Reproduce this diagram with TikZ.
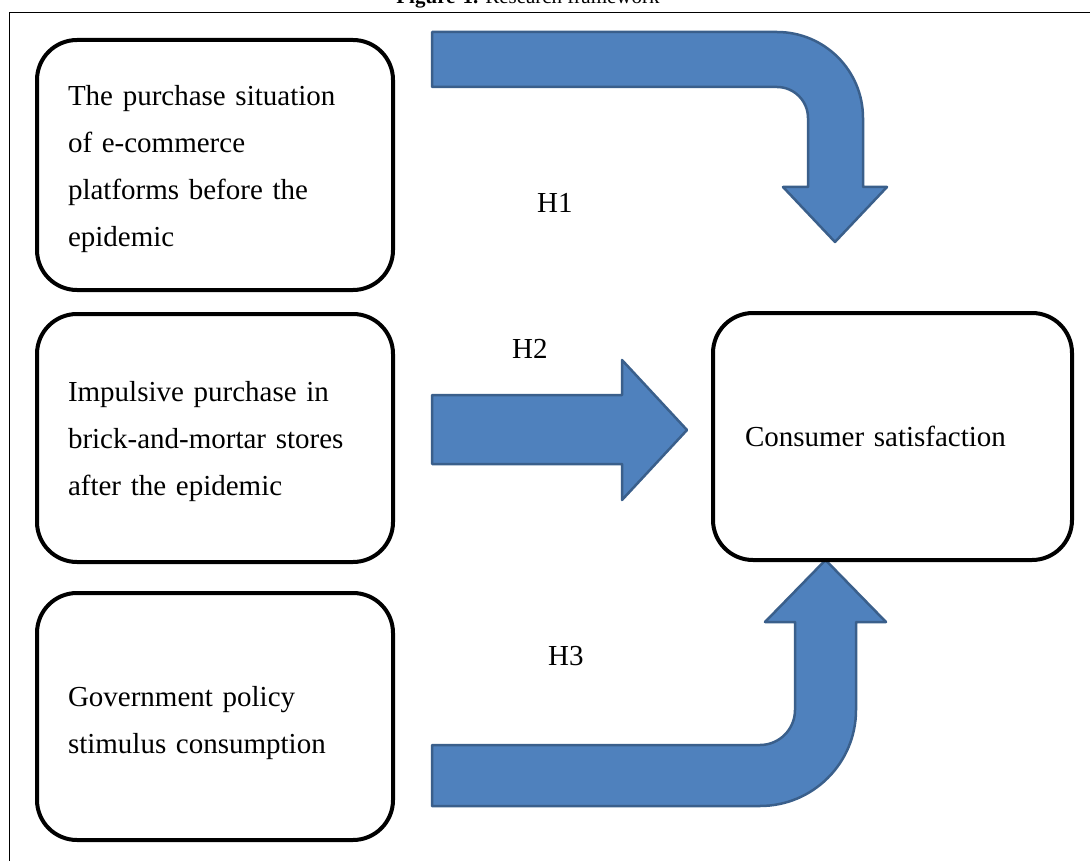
\documentclass[tikz,border=0pt]{standalone}
\usepackage{fontspec}
\setmainfont{Liberation Serif}
\definecolor{arrowfill}{HTML}{4F81BD}
\definecolor{arrowline}{HTML}{3A5F8B}
\newcommand\topgap[1]{\rule{0pt}{#1}}
\begin{document}
\begin{tikzpicture}[x=1pt,y=-1pt,
  box/.style={draw=black, line width=4pt, rounded corners=40pt, fill=white,
    align=left, inner xsep=31pt, inner ysep=0pt,
    font=\fontsize{29}{47}\selectfont},
  blockarrow/.style={fill=arrowfill, draw=arrowline, line width=2.5pt, line join=round},
  hlabel/.style={font=\fontsize{29}{35}\selectfont, anchor=base west, inner sep=0pt}]
\useasboundingbox (0,0) rectangle (1090,861);

% title (cut by the page edge, as in the reference) and frame
\node[font=\fontsize{21}{25}\selectfont, anchor=base, inner sep=0pt] (title) at (528,4)
  {\textbf{Figure-1.} Research framework};
\draw[line width=1.5pt] (9.5,861) -- (9.5,12.5) -- (1090,12.5);

% block arrows
\draw[blockarrow] (432,32) -- (777,32)
  .. controls (824.5,32) and (863,70.5) .. (863,118)
  -- (863,187) -- (887,187) -- (835,242) -- (783,187) -- (808,187) -- (808,118)
  .. controls (808,100.9) and (794.1,87) .. (777,87)
  -- (432,87) -- cycle;
\draw[blockarrow] (432,395) -- (622,395) -- (622,360) -- (687,430)
  -- (622,500) -- (622,464) -- (432,464) -- cycle;
\draw[blockarrow] (432,745) -- (760,745)
  .. controls (779.3,745) and (795,729.3) .. (795,710)
  -- (795,622) -- (765,622) -- (825.5,560) -- (886,622) -- (856,622) -- (856,710)
  .. controls (856,763) and (813,806) .. (760,806)
  -- (432,806) -- cycle;

% boxes
\node[box, text width=294pt, minimum height=250pt] (b1) at (215,165)
  {\topgap{28pt}The purchase situation\\of e-commerce\\platforms before the\\epidemic};
\node[box, text width=294pt, minimum height=248pt] (b2) at (215,438)
  {\topgap{28pt}Impulsive purchase in\\brick-and-mortar stores\\after the epidemic};
\node[box, text width=294pt, minimum height=247pt] (b3) at (215,716.5)
  {\topgap{33pt}Government policy\\stimulus consumption};
\node[box, inner xsep=32pt, text width=295pt, minimum height=247pt] (cs) at (892.5,436.5)
  {Consumer satisfaction};

% hypothesis labels
\node[hlabel] (h1) at (537,213) {H1};
\node[hlabel] (h2) at (512,358) {H2};
\node[hlabel] (h3) at (548,665) {H3};
\end{tikzpicture}
\end{document}
